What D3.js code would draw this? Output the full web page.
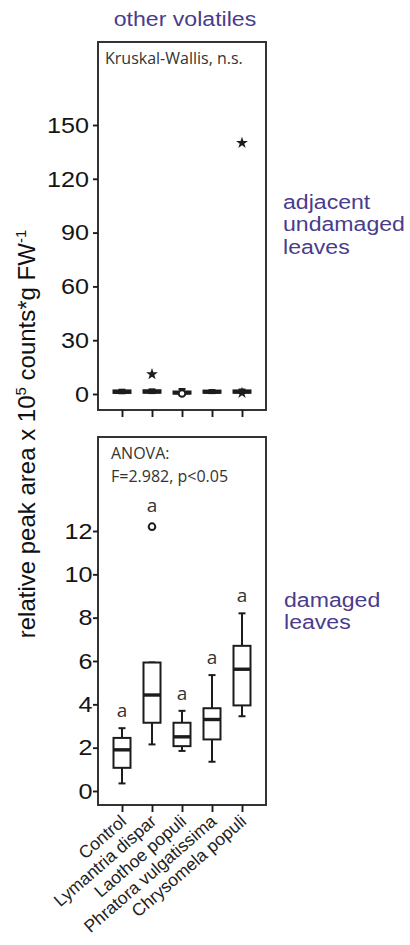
<!DOCTYPE html>
<html>
<head>
<meta charset="utf-8">
<script src="https://cdn.jsdelivr.net/npm/d3@7"></script>
<style>
  html, body { margin: 0; padding: 0; background: #fff; }
  svg { display: block; }
</style>
</head>
<body>
<svg id="chart" width="410" height="945"></svg>
<script>
// Herbivore treatments along the x axis
const categories = ["Control", "Lymantria dispar", "Laothoe populi", "Phratora vulgatissima", "Chrysomela populi"];

// Adjacent undamaged leaves: [min, q1, median, q3, max]
const upperStats = [
  [0.4, 0.6, 1.2, 2.0, 2.4],
  [0.5, 0.7, 1.3, 2.1, 2.6],
  [0.0, 0.2, 0.7, 1.4, 2.8],
  [0.5, 0.7, 1.1, 1.9, 2.2],
  [0.5, 0.7, 1.2, 2.0, 2.5]
];
// Extreme values (asterisks) and outliers (circles), adjacent leaves
const upperExtremes = [
  { cat: "Lymantria dispar", value: 11 },
  { cat: "Chrysomela populi", value: 140 },
  { cat: "Chrysomela populi", value: 0.6 }
];
const upperOutliers = [
  { cat: "Laothoe populi", value: 0.3 }
];
const upperTicks = [0, 30, 60, 90, 120, 150];

// Damaged leaves: [min, q1, median, q3, max]
const lowerStats = [
  [0.35, 1.07, 1.9, 2.45, 2.9],
  [2.15, 3.15, 4.43, 5.93, 5.93],
  [1.85, 2.07, 2.5, 3.15, 3.7],
  [1.35, 2.38, 3.3, 3.82, 5.35],
  [3.45, 3.95, 5.62, 6.7, 8.2]
];
const lowerOutliers = [
  { cat: "Lymantria dispar", value: 12.2 }
];
const lowerTicks = [0, 2, 4, 6, 8, 10, 12];
const groupLetters = ["a", "a", "a", "a", "a"];

const ink = "#1c1c1c";
const purple = "#4a3c8c";
const svg = d3.select("#chart");

const x = d3.scalePoint().domain(categories).range([98, 266]).padding(0.8);
const boxW = 17, capW = 7;

const panels = [
  { top: 42, bottom: 410, y: d3.scaleLinear().domain([0, 150]).range([394, 125]),
    ticks: upperTicks, stats: upperStats, extremes: upperExtremes, outliers: upperOutliers, labelPad: 3 },
  { top: 437, bottom: 805, y: d3.scaleLinear().domain([0, 12]).range([791, 531]),
    ticks: lowerTicks, stats: lowerStats, extremes: [], outliers: lowerOutliers, labelPad: 0 }
];

panels.forEach((p, pi) => {
  const g = svg.append("g");
  // frame
  g.append("rect")
    .attr("x", 98).attr("y", p.top)
    .attr("width", 168).attr("height", p.bottom - p.top)
    .attr("fill", "none").attr("stroke", "#2a2a2a").attr("stroke-width", 1.9);

  // y axis
  const ya = g.append("g").attr("transform", "translate(98,0)")
    .call(d3.axisLeft(p.y).tickValues(p.ticks).tickSize(5).tickPadding(p.labelPad).tickFormat(d3.format("d")));
  ya.select(".domain").remove();
  ya.selectAll(".tick line").attr("stroke", ink).attr("stroke-width", 1.9);
  ya.selectAll(".tick text")
    .attr("fill", "#151515")
    .style("font-family", "Liberation Sans, Arial, sans-serif")
    .style("font-size", "22.5px")
    .attr("transform", "scale(1.12,1)");

  // x axis ticks
  const xa = g.append("g").attr("transform", `translate(0,${p.bottom})`)
    .call(d3.axisBottom(x).tickSize(7).tickFormat(pi === 1 ? null : ""));
  xa.select(".domain").remove();
  xa.selectAll(".tick line").attr("stroke", ink).attr("stroke-width", 1.9);
  if (pi === 1) {
    xa.selectAll(".tick text")
      .attr("fill", "#222")
      .style("font-family", "Liberation Sans, Arial, sans-serif")
      .style("font-size", "17.5px")
      .attr("text-anchor", "end")
      .attr("dy", null)
      .attr("y", null)
      .attr("transform", "translate(5,18) rotate(-41)");
  } else {
    xa.selectAll(".tick text").remove();
  }

  // boxes
  p.stats.forEach((s, i) => {
    const cx = x(categories[i]);
    const [mn, q1, md, q3, mx] = s;
    const bg = g.append("g").attr("stroke", ink).attr("stroke-width", 2).attr("fill", "none");
    // whiskers
    bg.append("line").attr("x1", cx).attr("x2", cx).attr("y1", p.y(q3)).attr("y2", p.y(mx));
    bg.append("line").attr("x1", cx).attr("x2", cx).attr("y1", p.y(q1)).attr("y2", p.y(mn));
    bg.append("line").attr("x1", cx - capW / 2).attr("x2", cx + capW / 2).attr("y1", p.y(mx)).attr("y2", p.y(mx));
    bg.append("line").attr("x1", cx - capW / 2).attr("x2", cx + capW / 2).attr("y1", p.y(mn)).attr("y2", p.y(mn));
    // box
    bg.append("rect").attr("x", cx - boxW / 2).attr("y", p.y(q3))
      .attr("width", boxW).attr("height", Math.max(0, p.y(q1) - p.y(q3)))
      .attr("fill", "#fff");
    // median
    bg.append("line").attr("x1", cx - boxW / 2).attr("x2", cx + boxW / 2)
      .attr("y1", p.y(md)).attr("y2", p.y(md)).attr("stroke-width", 3.4);
  });

  // outliers
  g.selectAll(".outlier").data(p.outliers).join("circle")
    .attr("cx", d => x(d.cat)).attr("cy", d => p.y(d.value)).attr("r", 3.3)
    .attr("fill", "#fff").attr("stroke", ink).attr("stroke-width", 2);

  // extremes
  const star = d3.symbol().type(d3.symbolStar).size(44);
  g.selectAll(".extreme").data(p.extremes).join("path")
    .attr("d", star)
    .attr("transform", d => `translate(${x(d.cat)},${p.y(d.value)})`)
    .attr("fill", ink);
});

// significance letters for damaged leaves
const lower = panels[1];
svg.append("g").selectAll("text").data(categories).join("text")
  .attr("x", d => x(d))
  .attr("y", (d, i) => {
    const outs = lower.outliers.filter(o => o.cat === d).map(o => o.value);
    const top = d3.max([lower.stats[i][4], ...outs]);
    const extra = outs.length && d3.max(outs) === top ? 4 : 0;
    return lower.y(top) - 11 - extra;
  })
  .attr("text-anchor", "middle")
  .attr("fill", "#333")
  .style("font-family", "Open Sans, sans-serif")
  .style("font-size", "19px")
  .text((d, i) => groupLetters[i]);

// statistics notes
const note = (tx, ty, str) => svg.append("text")
  .attr("x", tx).attr("y", ty).attr("fill", "#333")
  .style("font-family", "Open Sans, sans-serif").style("font-size", "16px")
  .text(str);
note(105, 64, "Kruskal-Wallis, n.s.");
note(111, 459, "ANOVA:");
note(111, 482, "F=2.982, p<0.05");

// purple headings
const heading = (tx, ty, lines, anchor) => {
  const t = svg.append("text")
    .attr("transform", `translate(${tx},${ty}) scale(1.1,1)`)
    .attr("text-anchor", anchor)
    .attr("fill", purple)
    .style("font-family", "Liberation Sans, Arial, sans-serif")
    .style("font-size", "21px");
  lines.forEach((l, i) => t.append("tspan").attr("x", 0).attr("dy", i === 0 ? 0 : 22.5).text(l));
};
heading(185, 26, ["other volatiles"], "middle");
heading(283, 209, ["adjacent", "undamaged", "leaves"], "start");
heading(284, 607, ["damaged", "leaves"], "start");

// y axis title
const yt = svg.append("text")
  .attr("transform", "translate(35,434) rotate(-90)")
  .attr("text-anchor", "middle")
  .attr("fill", "#111")
  .style("font-family", "Liberation Sans, Arial, sans-serif")
  .style("font-size", "24px");
yt.append("tspan").text("relative peak area x 10");
yt.append("tspan").attr("dy", -9).style("font-size", "15px").text("5");
yt.append("tspan").attr("dy", 9).text(" counts*g FW");
yt.append("tspan").attr("dy", -9).style("font-size", "15px").text("-1");
</script>
</body>
</html>
